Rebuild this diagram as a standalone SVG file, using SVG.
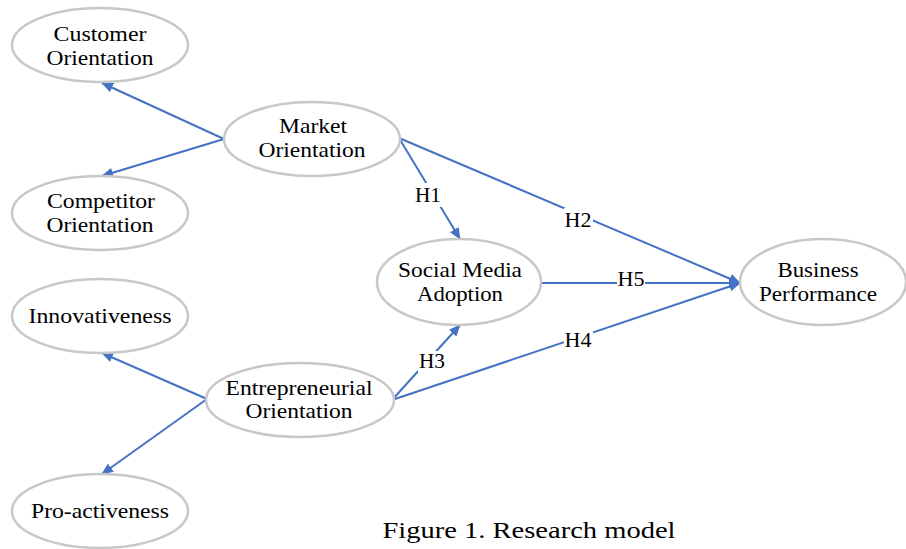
<svg xmlns="http://www.w3.org/2000/svg" width="906" height="549" viewBox="0 0 906 549">
<style>
.node ellipse{fill:#fff;stroke:#c8c8c8;stroke-width:2.5}
.node text{font-family:"Liberation Serif","Times New Roman",serif;font-size:21px;fill:#000;text-anchor:middle}
.edge{stroke:#4472c4;stroke-width:2;fill:none}
.lbl rect{fill:#fff}
.lbl text{font-family:"Liberation Serif","Times New Roman",serif;font-size:21px;fill:#000;text-anchor:middle}
.cap{font-family:"Liberation Serif","Times New Roman",serif;font-size:24px;fill:#000;text-anchor:middle}
</style>
<defs>
<marker id="arr" markerUnits="userSpaceOnUse" markerWidth="12" markerHeight="10" refX="11" refY="5" orient="auto">
<path d="M0,0 L12,5 L0,10 Z" fill="#4472c4"/>
</marker>
</defs>
<rect width="906" height="549" fill="#fff"/>
<g id="connectors">
<line class="edge" x1="224" y1="139" x2="102" y2="83" marker-end="url(#arr)"/>
<line class="edge" x1="224" y1="139" x2="102" y2="176" marker-end="url(#arr)"/>
<line class="edge" x1="399" y1="138" x2="460" y2="239" marker-end="url(#arr)"/>
<line class="edge" x1="399" y1="138" x2="740" y2="283" marker-end="url(#arr)"/>
<line class="edge" x1="541" y1="283" x2="740" y2="283" marker-end="url(#arr)"/>
<line class="edge" x1="392" y1="400" x2="460" y2="325" marker-end="url(#arr)"/>
<line class="edge" x1="392" y1="400" x2="740" y2="283" marker-end="url(#arr)"/>
<line class="edge" x1="207" y1="399" x2="102" y2="353" marker-end="url(#arr)"/>
<line class="edge" x1="207" y1="399" x2="102" y2="474" marker-end="url(#arr)"/>
<g class="lbl"><rect x="414" y="183" width="28" height="24"/><text x="428" y="202" textLength="26" lengthAdjust="spacingAndGlyphs">H1</text></g>
<g class="lbl"><rect x="564" y="208" width="29" height="22"/><text x="578" y="227" textLength="27" lengthAdjust="spacingAndGlyphs">H2</text></g>
<g class="lbl"><rect x="617" y="270" width="28" height="20"/><text x="631" y="286" textLength="27" lengthAdjust="spacingAndGlyphs">H5</text></g>
<g class="lbl"><rect x="418" y="351" width="28" height="22"/><text x="432" y="368" textLength="26" lengthAdjust="spacingAndGlyphs">H3</text></g>
<g class="lbl"><rect x="564" y="329" width="29" height="22"/><text x="578" y="347" textLength="27" lengthAdjust="spacingAndGlyphs">H4</text></g>
</g>
<g id="customer" class="node"><ellipse cx="100" cy="45" rx="88" ry="37"/><text x="100" y="41" textLength="93" lengthAdjust="spacingAndGlyphs">Customer</text><text x="100" y="65" textLength="107" lengthAdjust="spacingAndGlyphs">Orientation</text></g>
<g id="competitor" class="node"><ellipse cx="100" cy="213" rx="88" ry="37"/><text x="101" y="208" textLength="108" lengthAdjust="spacingAndGlyphs">Competitor</text><text x="100" y="232" textLength="107" lengthAdjust="spacingAndGlyphs">Orientation</text></g>
<g id="market" class="node"><ellipse cx="312" cy="139" rx="88" ry="37"/><text x="313" y="133" textLength="68" lengthAdjust="spacingAndGlyphs">Market</text><text x="312" y="157" textLength="107" lengthAdjust="spacingAndGlyphs">Orientation</text></g>
<g id="sma" class="node"><ellipse cx="459" cy="282" rx="82" ry="43"/><text x="460" y="277" textLength="124" lengthAdjust="spacingAndGlyphs">Social Media</text><text x="460" y="301" textLength="86" lengthAdjust="spacingAndGlyphs">Adoption</text></g>
<g id="bp" class="node"><ellipse cx="823" cy="282" rx="83" ry="43"/><text x="818" y="277" textLength="81" lengthAdjust="spacingAndGlyphs">Business</text><text x="818" y="301" textLength="118" lengthAdjust="spacingAndGlyphs">Performance</text></g>
<g id="innov" class="node"><ellipse cx="100" cy="316" rx="88" ry="37"/><text x="100" y="323" textLength="143" lengthAdjust="spacingAndGlyphs">Innovativeness</text></g>
<g id="eo" class="node"><ellipse cx="300" cy="400" rx="94" ry="37"/><text x="299" y="395" textLength="147" lengthAdjust="spacingAndGlyphs">Entrepreneurial</text><text x="299" y="418" textLength="107" lengthAdjust="spacingAndGlyphs">Orientation</text></g>
<g id="proact" class="node"><ellipse cx="100" cy="511" rx="88" ry="37"/><text x="100" y="518" textLength="138" lengthAdjust="spacingAndGlyphs">Pro-activeness</text></g>
<text class="cap" x="529" y="538" textLength="293" lengthAdjust="spacingAndGlyphs">Figure 1. Research model</text>
</svg>
